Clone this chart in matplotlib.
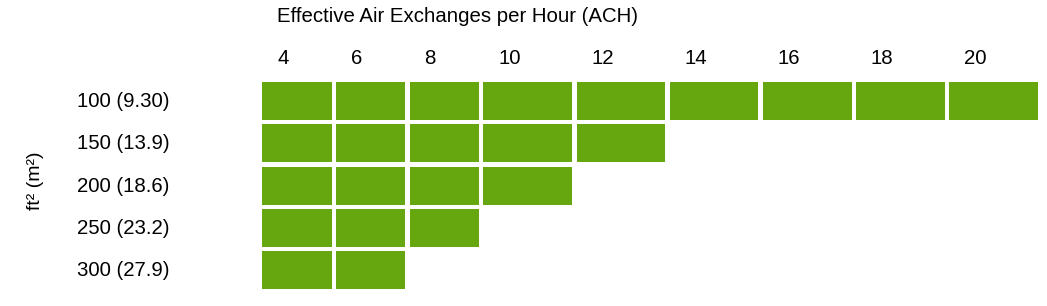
import matplotlib.pyplot as plt

plt.rcParams['font.family'] = ['Liberation Sans', 'DejaVu Sans']

ach = [4, 6, 8, 10, 12, 14, 16, 18, 20]
areas = ['100 (9.30)', '150 (13.9)', '200 (18.6)', '250 (23.2)', '300 (27.9)']
max_ach = [20, 12, 10, 8, 6]

green = '#66a70f'
fs = 14.7

# layout in pixels (axes spans the whole figure)
x0 = 262
row_top = 82
row_h = 38
row_gap = 4.3
col_gap = 4.3


def col_width(v):
    # single digit columns are narrower
    return 69.5 if v < 10 else 88.8


fig = plt.figure(figsize=(10.47, 3.06), dpi=100)
ax = fig.add_axes([0, 0, 1, 1])
ax.set_xlim(0, 1047)
ax.set_ylim(306, 0)
ax.axis('off')

lefts = []
x = x0
for v in ach:
    lefts.append(x)
    x += col_width(v) + col_gap

for i, (lab, m) in enumerate(zip(areas, max_ach)):
    y = row_top + i * (row_h + row_gap)
    for v, l in zip(ach, lefts):
        if v <= m:
            ax.broken_barh([(l, col_width(v))], (y, row_h), facecolors=green)
    ax.text(77, y + row_h / 2 + 0.5, lab, fontsize=fs, va='center', ha='left')

for v, l in zip(ach, lefts):
    ax.text(l + 15, 59, str(v), fontsize=fs, va='center', ha='left')

ax.text(277, 17, 'Effective Air Exchanges per Hour (ACH)', fontsize=fs,
        va='center', ha='left')
ax.text(35, 181, 'ft² (m²)', fontsize=14, rotation=90, va='center', ha='center')

fig.savefig('out.png', dpi=100)
